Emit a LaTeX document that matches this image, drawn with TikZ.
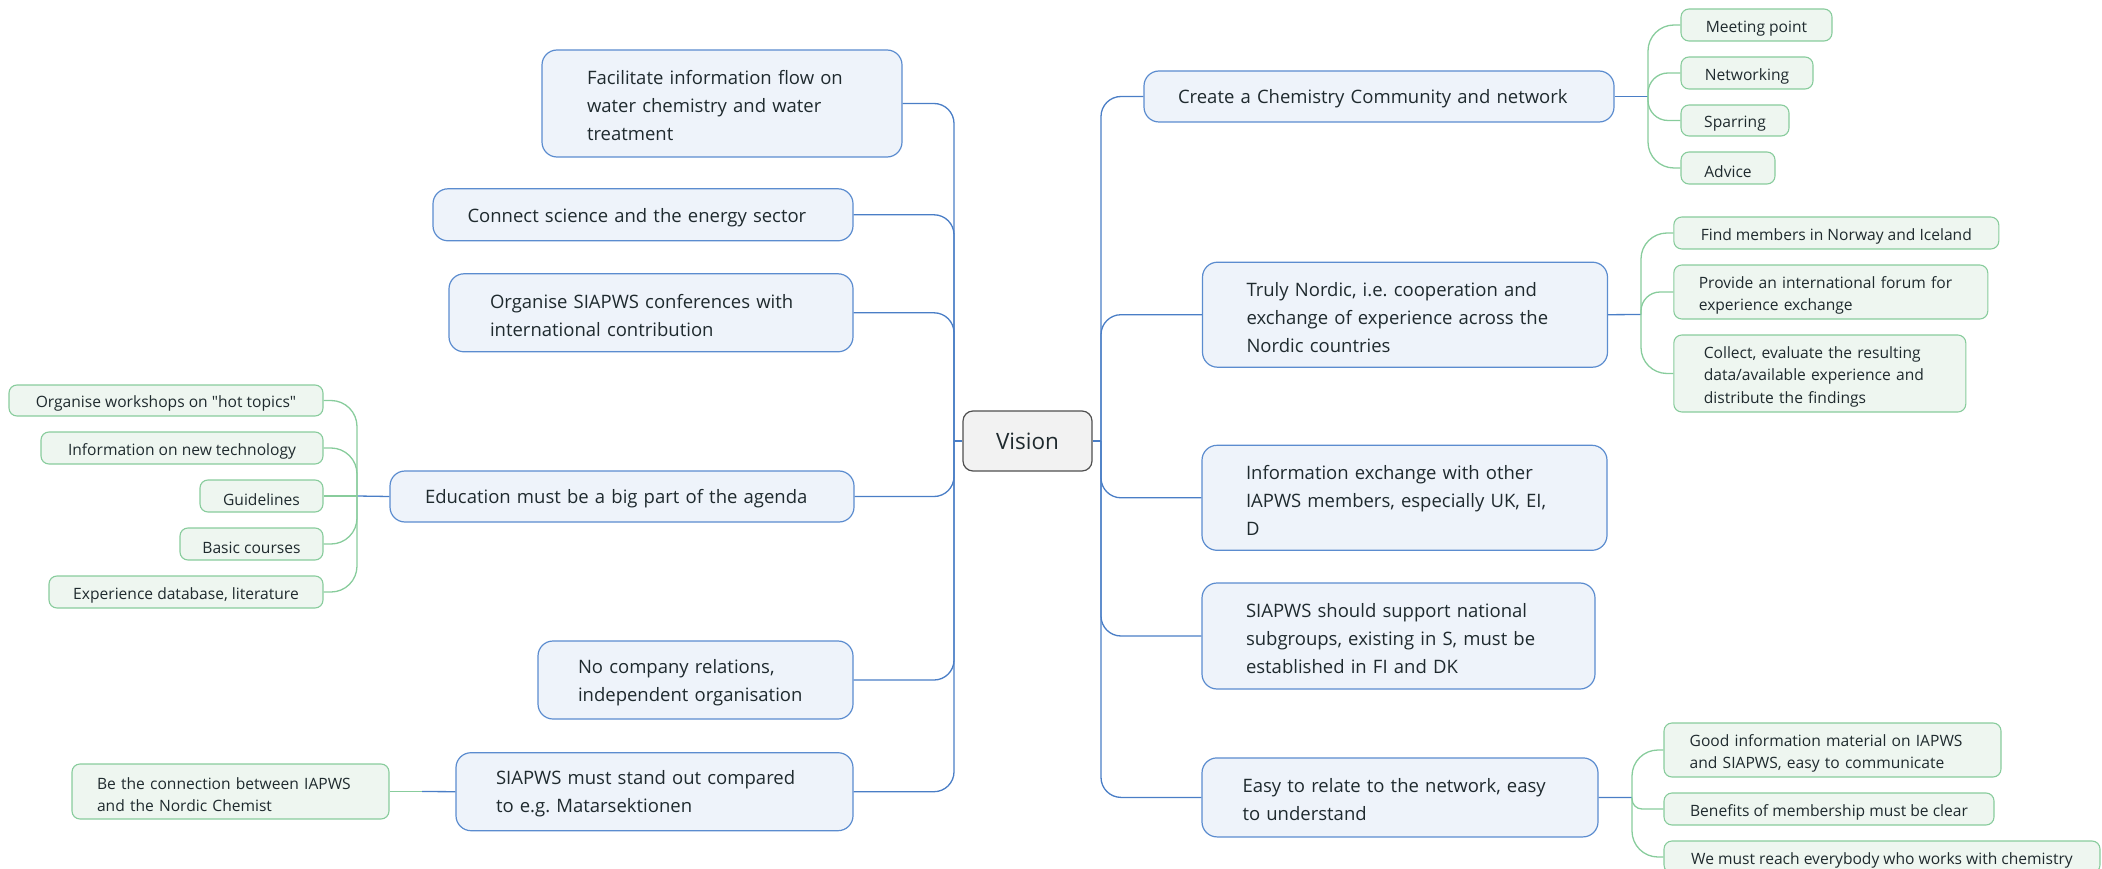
\documentclass[tikz,border=0pt]{standalone}
\usepackage{fontspec}
\setmainfont{Open Sans}
\frenchspacing
\definecolor{linkblue}{HTML}{4A7EC6}
\definecolor{topicfill}{HTML}{EEF3FA}
\definecolor{topicline}{HTML}{5B8CCF}
\definecolor{subfill}{HTML}{EEF6F0}
\definecolor{subline}{HTML}{88CC9C}
\definecolor{rootfill}{HTML}{F2F2F2}
\definecolor{rootline}{HTML}{505050}
\definecolor{ink}{HTML}{1F2A2E}

\begin{document}
\begin{tikzpicture}[x=1pt, y=-1pt,
  root/.style={draw=rootline, fill=rootfill, line width=1.2pt, rounded corners=10pt,
    minimum width=129pt, minimum height=60pt, inner sep=0pt, text=ink,
    font=\fontsize{22.5}{28}\selectfont},
  topic/.style={draw=topicline, fill=topicfill, line width=1.2pt, rounded corners=15pt,
    inner ysep=0pt, align=left, text=ink, font=\fontsize{18.5}{28}\selectfont,
    execute at begin node={\rule{0pt}{19pt}}},
  sub/.style={draw=subline, fill=subfill, line width=1.1pt, rounded corners=8pt,
    inner ysep=0pt, align=left, text=ink, font=\fontsize{15.6}{22.5}\selectfont,
    execute at begin node={\rule{0pt}{18.6pt}}},
  trunk/.style={draw=linkblue, line width=1.3pt, rounded corners=20pt},
  twig/.style={draw=subline, line width=1.3pt, rounded corners=26pt}]
  \useasboundingbox (0,0) rectangle (2102,869);
  \clip (0,0) rectangle (2102,869);
  % root
  \node[root] (vision) at (1027.5,441) {Vision};
  % right topics
  \node[topic, minimum height=51pt, text width=402pt, inner xsep=34pt] (create) at (1379,96.5)
    {Create a Chemistry Community and network};
  \node[topic, minimum height=105pt, text width=317pt, inner xsep=44pt] (nordic) at (1405,314.7)
    {Truly Nordic, i.e. cooperation and\\exchange of experience across the\\Nordic countries};
  \node[topic, minimum height=105pt, text width=317pt, inner xsep=44pt] (info) at (1404.5,497.8)
    {Information exchange with other\\IAPWS members, especially UK, EI,\\D};
  \node[topic, minimum height=106pt, text width=305pt, inner xsep=44pt] (support) at (1398.5,636)
    {SIAPWS should support national\\subgroups, existing in S, must be\\established in FI and DK};
  \node[topic, minimum height=79pt, text width=315pt, inner xsep=40.5pt] (easy) at (1400,797.4)
    {Easy to relate to the network, easy\\to understand};
  % left topics
  \node[topic, minimum height=107pt, text width=270pt, inner xsep=45pt] (facil) at (722,103.5)
    {Facilitate information flow on\\water chemistry and water\\treatment};
  \node[topic, minimum height=52pt, text width=351pt, inner xsep=34.5pt] (science) at (643,214.8)
    {Connect science and the energy sector};
  \node[topic, minimum height=78pt, text width=322pt, inner xsep=41pt] (conf) at (651,312.8)
    {Organise SIAPWS conferences with\\international contribution};
  \node[topic, minimum height=51pt, text width=394pt, inner xsep=35pt] (edu) at (622,496.5)
    {Education must be a big part of the agenda};
  \node[topic, minimum height=78pt, text width=235pt, inner xsep=40pt] (company) at (695.5,680)
    {No company relations,\\independent organisation};
  \node[topic, minimum height=78pt, text width=317pt, inner xsep=40pt] (standout) at (654.5,791.7)
    {SIAPWS must stand out compared\\to e.g. Matarsektionen};
  % subtopics, right
  \node[sub, minimum width=151pt, minimum height=32pt] (meet) at (1756.5,25) {Meeting point};
  \node[sub, minimum width=132pt, minimum height=32pt] (netw) at (1747,73) {Networking};
  \node[sub, minimum width=108pt, minimum height=31pt] (spar) at (1735,120.5) {Sparring};
  \node[sub, minimum width=94pt, minimum height=32pt] (advi) at (1728,168) {Advice};
  \node[sub, minimum width=325pt, minimum height=32pt] (find) at (1836.3,233)
    {Find members in Norway and Iceland};
  \node[sub, minimum height=54pt, text width=264pt, inner xsep=25pt] (prov) at (1830.8,292)
    {Provide an international forum for\\experience exchange};
  \node[sub, minimum height=77pt, text width=232pt, inner xsep=30pt] (coll) at (1819.8,373.5)
    {Collect, evaluate the resulting\\data/available experience and\\distribute the findings};
  \node[sub, minimum height=54pt, text width=285.6pt, inner xsep=25.7pt] (good) at (1832.5,750)
    {Good information material on IAPWS\\and SIAPWS, easy to communicate};
  \node[sub, minimum width=330pt, minimum height=32pt] (bene) at (1829,809)
    {Benefits of membership must be clear};
  \node[sub, minimum width=436pt, minimum height=32pt] (reach) at (1882,857)
    {We must reach everybody who works with chemistry};
  % subtopics, left
  \node[sub, minimum width=314pt, minimum height=31pt] (wshop) at (166,400.5)
    {Organise workshops on \textquotedbl hot topics\textquotedbl};
  \node[sub, minimum width=282pt, minimum height=32pt] (newtech) at (182,448)
    {Information on new technology};
  \node[sub, minimum width=123pt, minimum height=32pt] (guide) at (261.5,496) {Guidelines};
  \node[sub, minimum width=143pt, minimum height=32pt] (basic) at (251.5,544) {Basic courses};
  \node[sub, minimum width=274pt, minimum height=32pt] (expdb) at (186,592)
    {Experience database, literature};
  \node[sub, minimum height=55pt, text width=267pt, inner xsep=25pt] (bridge) at (230.5,791.5)
    {Be the connection between IAPWS\\and the Nordic Chemist};
  % main connectors
  \coordinate (lj) at (954,441);
  \coordinate (rj) at (1101,441);
  \draw[trunk] (vision.west) -- (lj);
  \draw[trunk] (vision.east) -- (rj);
  \foreach \n in {facil,science,conf,edu,company,standout}
    \draw[trunk] (lj) |- (\n.east);
  \foreach \n in {create,nordic,info,support,easy}
    \draw[trunk] (rj) |- (\n.west);
  % sub connectors
  \coordinate (cj) at (1648,96.5);
  \coordinate (nj) at (1641,314.5);
  \coordinate (yj) at (1632,797.5);
  \coordinate (ej) at (357,496);
  \coordinate (sj) at (422,791.5);
  \draw[trunk] (create.east) -- (cj);
  \draw[trunk] (nordic.east) -- (nj);
  \draw[trunk] (easy.east) -- (yj);
  \draw[trunk] (edu.west) -- (ej);
  \draw[trunk] (standout.west) -- (sj);
  \draw[twig] (cj) |- (meet.west);
  \draw[twig, rounded corners=20pt] (cj) |- (netw.west);
  \draw[twig, rounded corners=20pt] (cj) |- (spar.west);
  \draw[twig] (cj) |- (advi.west);
  \draw[twig] (nj) |- (find.west);
  \draw[twig, rounded corners=19pt] (nj) |- (prov.west);
  \draw[twig] (nj) |- (coll.west);
  \draw[twig] (yj) |- (good.west);
  \draw[twig, rounded corners=10pt] (yj) |- (bene.west);
  \draw[twig] (yj) |- (reach.west);
  \foreach \n in {wshop,newtech,basic,expdb}
    \draw[twig] (ej) |- (\n.east);
  \draw[twig] (ej) -- (guide.east);
  \draw[twig] (sj) -- (bridge.east);
\end{tikzpicture}
\end{document}
